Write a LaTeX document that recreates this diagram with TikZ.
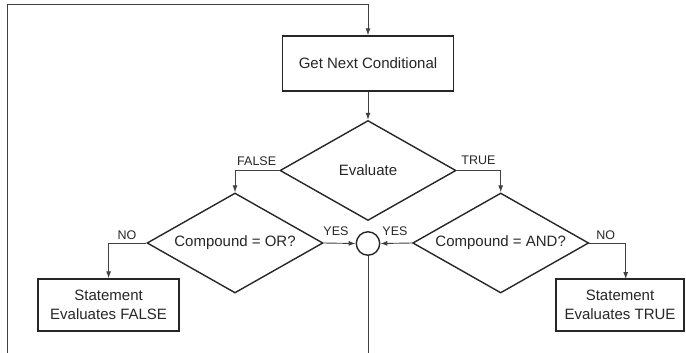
\documentclass[tikz,border=0pt]{standalone}
\usepackage{fontspec}
\setmainfont{Liberation Sans}
\usetikzlibrary{shapes.geometric,arrows.meta}
\begin{document}
\begin{tikzpicture}[x=1pt,y=-1pt,
  box/.style={draw=black!85, line width=1.4pt, fill=white, text=black!85,
    font=\fontsize{15}{19}\selectfont, align=center, inner sep=0pt},
  dec/.style={diamond, draw=black!85, line width=1.4pt, text=black!85,
    minimum width=176pt, minimum height=100pt, aspect=1.76, inner sep=0pt,
    font=\fontsize{15}{17}\selectfont},
  junc/.style={circle, draw=black!85, line width=1.4pt, minimum size=23.4pt, inner sep=0pt},
  conn/.style={draw=black!75, line width=0.9pt},
  arr/.style={conn, -{Latex[length=7pt,width=5pt]}},
  lbl/.style={font=\fontsize{12.5}{14}\selectfont, text=black!85, inner sep=0pt}
]
\useasboundingbox (0,0) rectangle (686,353);
% nodes
\node[box, minimum width=171pt, minimum height=55pt] (get) at (368,63.5) {Get Next Conditional};
\node[dec] (eval) at (368,170.5) {Evaluate};
\node[dec] (or) at (235,243) {Compound = OR?};
\node[dec] (and) at (500.7,243) {Compound = AND?};
\node[junc] (j) at (368,243.5) {};
\node[box, minimum width=141pt, minimum height=52pt] (sf) at (108.6,305) {Statement\\Evaluates FALSE};
\node[box, minimum width=128pt, minimum height=52pt] (st) at (620,305) {Statement\\Evaluates TRUE};
% helper coordinates
\coordinate (loopbot) at (7.3,353);
\coordinate (looptop) at (7.3,4.3);
\coordinate (jbot) at (368,353);
\coordinate (stin) at (625.7,279);
% connectors
\draw[arr] (loopbot) -- (looptop) -| (get.north);
\draw[arr] (get.south) -- (eval.north);
\draw[arr] (eval.west) -| (or.north);
\draw[arr] (eval.east) -| (and.north);
\draw[arr] (or.east) -- (j.west);
\draw[arr] (and.west) -- (j.east);
\draw[arr] (or.west) -| (sf.north);
\draw[arr] (and.east) -| (stin);
\draw[conn] (j.south) -- (jbot);
% labels
\node[lbl] (lfalse) at (256.7,160.7) {FALSE};
\node[lbl] (ltrue) at (478.5,160.7) {TRUE};
\node[lbl] (lno1) at (127,235) {NO};
\node[lbl] (lno2) at (605.8,235) {NO};
\node[lbl] (lyes1) at (336,231) {YES};
\node[lbl] (lyes2) at (395,231) {YES};
\end{tikzpicture}
\end{document}
